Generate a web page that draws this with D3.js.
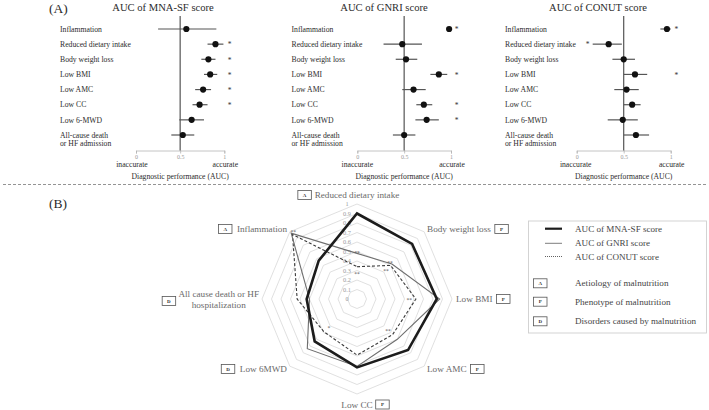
<!DOCTYPE html>
<html><head><meta charset="utf-8">
<script src="https://cdn.jsdelivr.net/npm/d3@7"></script>
<style>
body{margin:0;background:#fff}
svg{display:block}
text{font-family:"Liberation Serif","Times New Roman",serif}
</style>
</head><body>
<svg id="c" width="709" height="410"></svg>
<script>
// ---------------- DATA ----------------
const outcomes = ["Inflammation","Reduced dietary intake","Body weight loss","Low BMI","Low AMC","Low CC","Low 6-MWD","All-cause death|or HF admission"];
const scoreNames = ["AUC of MNA-SF score","AUC of GNRI score","AUC of CONUT score"];

const mnaAUC = [0.57,0.90,0.82,0.84,0.76,0.72,0.63,0.53];
const mnaLo  = [0.25,0.81,0.74,0.77,0.67,0.64,0.49,0.40];
const mnaHi  = [0.91,0.99,0.90,0.92,0.85,0.81,0.77,0.66];
const mnaSig = [0,1,1,1,1,1,0,0];

const gnriAUC = [0.98,0.48,0.52,0.87,0.60,0.71,0.74,0.50];
const gnriLo  = [0.96,0.28,0.41,0.78,0.48,0.63,0.62,0.38];
const gnriHi  = [1.00,0.69,0.64,0.96,0.73,0.80,0.87,0.62];
const gnriSig = [1,0,0,1,0,1,1,0];

const conutAUC = [0.96,0.34,0.50,0.62,0.53,0.59,0.49,0.63];
const conutLo  = [0.89,0.17,0.38,0.50,0.40,0.50,0.33,0.50];
const conutHi  = [1.00,0.48,0.62,0.75,0.66,0.68,0.65,0.77];
const conutSig = [1,-1,0,1,0,0,0,0];   // 1 = asterisk right, -1 = asterisk left

const xTicks = [0,0.5,1];
const xTickLabels = ["0","0.5","1"];

// radar (clockwise from top), indices into the outcome arrays
const radarOrder = [1,2,3,4,5,6,7,0];
const radarLabels = ["Reduced dietary intake","Body weight loss","Low BMI","Low AMC","Low CC","Low 6MWD","All cause death or HF|hospitalization","Inflammation"];
const radarDomain = ["A","P","P","P","P","D","D","A"];
const radarTicks = [0,0.1,0.2,0.3,0.4,0.5,0.6,0.7,0.8,0.9,1];
const radarGnriMarks  = ["**","**","","","","","","**"];
const radarConutMarks = ["**","**","**","**","","*","",""];

const legendKeys = [["A","Aetiology of malnutrition"],["P","Phenotype of malnutrition"],["D","Disorders caused by malnutrition"]];

// ---------------- DRAW ----------------
const svg = d3.select("#c");
const FONT_DARK = "#2b2b2b";

svg.append("text").attr("x",49).attr("y",12.5).attr("font-size",13.5).attr("fill",FONT_DARK).text("(A)");
svg.append("text").attr("x",49).attr("y",208).attr("font-size",13.5).attr("fill",FONT_DARK).text("(B)");

// divider
svg.append("line").attr("x1",3).attr("x2",706).attr("y1",184.5).attr("y2",184.5)
  .attr("stroke","#888").attr("stroke-width",0.9).attr("stroke-dasharray","3,2");

const panels = [
  {title:scoreNames[0], titleX:163, labelX:60,  range:[136,224.3], auc:mnaAUC, lo:mnaLo, hi:mnaHi, sig:mnaSig, inacOff:-4},
  {title:scoreNames[1], titleX:384, labelX:291.5, range:[357.3,451], auc:gnriAUC, lo:gnriLo, hi:gnriHi, sig:gnriSig, inacOff:0},
  {title:scoreNames[2], titleX:598, labelX:505, range:[576.7,670.7], auc:conutAUC, lo:conutLo, hi:conutHi, sig:conutSig, inacOff:-1}
];

const y = d3.scalePoint().domain(outcomes).range([29,135]);
const axisY = 150.5;

panels.forEach(p=>{
  const x = d3.scaleLinear().domain([0,1]).range(p.range);
  const g = svg.append("g");
  g.append("text").attr("x",p.titleX).attr("y",11)
    .attr("text-anchor","middle").attr("font-size",10.6).attr("fill",FONT_DARK).text(p.title);
  outcomes.forEach(o=>{
    o.split("|").forEach((t,k)=>{
      g.append("text").attr("x",p.labelX).attr("y",y(o)+k*8.2).attr("dy","0.35em")
        .attr("font-size",7.7).attr("fill",FONT_DARK).text(t);
    });
  });
  const ax = g.append("g").attr("transform",`translate(0,${axisY})`);
  ax.call(d3.axisBottom(x).ticks(10).tickSize(2).tickFormat(""));
  ax.call(d3.axisBottom(x).tickValues(xTicks).tickSize(3).tickFormat((d,i)=>xTickLabels[i]));
  ax.selectAll("path").attr("stroke","#b5b5b5").attr("stroke-width",0.8);
  ax.selectAll("line").attr("stroke","#b5b5b5").attr("stroke-width",0.8);
  ax.selectAll("text").attr("font-family","Liberation Serif").attr("font-size",6).attr("fill","#999").attr("dy","0.45em");
  g.append("line").attr("x1",x(0.5)).attr("x2",x(0.5)).attr("y1",16).attr("y2",axisY)
    .attr("stroke","#555").attr("stroke-width",1.2);
  g.append("text").attr("x",x(0)+p.inacOff).attr("y",164).attr("dy","0.35em").attr("text-anchor","middle")
    .attr("font-size",7.7).attr("fill",FONT_DARK).text("inaccurate");
  g.append("text").attr("x",x(1)+1).attr("y",164).attr("dy","0.35em").attr("text-anchor","middle")
    .attr("font-size",7.7).attr("fill",FONT_DARK).text("accurate");
  g.append("text").attr("x",x(0.5)).attr("y",176.5).attr("dy","0.35em").attr("text-anchor","middle")
    .attr("font-size",7.7).attr("fill",FONT_DARK).text("Diagnostic performance (AUC)");
  outcomes.forEach((o,i)=>{
    g.append("line").attr("x1",x(p.lo[i])).attr("x2",x(p.hi[i])).attr("y1",y(o)).attr("y2",y(o))
      .attr("stroke","#555").attr("stroke-width",1.2);
    g.append("circle").attr("cx",x(p.auc[i])).attr("cy",y(o)).attr("r",3.1).attr("fill","#111");
    if(p.sig[i]!==0){
      const sx = p.sig[i]>0 ? x(1.06) : x(p.lo[i]) - 5;
      g.append("text").attr("x",sx).attr("y",y(o)+3.3).attr("text-anchor","middle")
        .attr("font-size",7.5).attr("fill","#333").text("*");
    }
  });
});

// ---------------- RADAR ----------------
const cx = 357, cy = 299, R = 95;
const r = d3.scaleLinear().domain([0,1]).range([0,R]);
const nAx = radarOrder.length;
const ang = i => i*2*Math.PI/nAx;
const pt = (i,v) => [cx + r(v)*Math.sin(ang(i)), cy - r(v)*Math.cos(ang(i))];
const rg = svg.append("g");

radarTicks.slice(1).forEach(v=>{
  rg.append("polygon").attr("points", d3.range(nAx).map(i=>pt(i,v).join(",")).join(" "))
    .attr("fill","none").attr("stroke","#d8d8d8").attr("stroke-width",0.8);
});
radarTicks.forEach(v=>{
  rg.append("text").attr("x",cx-10).attr("y",cy - r(v)).attr("dy","0.35em").attr("text-anchor","middle")
    .attr("font-size",6.3).attr("fill","#9a9a9a").text(v===0?"0":(v===1?"1":d3.format(".1f")(v)));
});

const radarLine = d3.line().curve(d3.curveLinearClosed);
const series = [
  {vals:conutAUC, stroke:"#3a3a3a", w:1.1, dash:"3,2"},
  {vals:gnriAUC,  stroke:"#6e6e6e", w:1.1, dash:null},
  {vals:mnaAUC,   stroke:"#1c1c1c", w:2.6, dash:null}
];
series.forEach(s=>{
  const pts = radarOrder.map((k,i)=>pt(i,s.vals[k]));
  rg.append("path").attr("d",radarLine(pts)).attr("fill","none")
    .attr("stroke",s.stroke).attr("stroke-width",s.w).attr("stroke-linejoin","miter")
    .attr("stroke-dasharray",s.dash);
});
[[radarGnriMarks,gnriAUC],[radarConutMarks,conutAUC]].forEach(([marks,vals],si)=>{
  radarOrder.forEach((k,i)=>{
    if(!marks[i]) return;
    const [px,py] = pt(i, vals[k] - (si===0?0.03:0.07));
    rg.append("text").attr("x",px).attr("y",py+ (si===0?-1:3)).attr("text-anchor","middle")
      .attr("font-size",5.5).attr("fill","#555").text(marks[i]);
  });
});

function domainBox(g, bx, by, letter){
  g.append("rect").attr("x",bx).attr("y",by-4.5).attr("width",13.5).attr("height",9)
    .attr("fill","#fff").attr("stroke","#555").attr("stroke-width",0.8);
  g.append("text").attr("x",bx+6.75).attr("y",by).attr("dy","0.35em").attr("text-anchor","middle")
    .attr("font-size",5).attr("font-weight","bold").attr("fill","#333").text(letter);
}
const LAB = "#6a6a6a", LFS = 9.2;
radarLabels.forEach((lab,i)=>{
  const a = ang(i), s = Math.sin(a), c = Math.cos(a);
  const g = rg.append("g");
  const lines = lab.split("|");
  if(Math.abs(s) < 0.1){
    const rr = c > 0 ? 104 : 105.5;
    const tx = cx, ty = cy - rr*c;
    const t = g.append("text").attr("x",tx).attr("y",ty).attr("dy","0.35em").attr("text-anchor","middle")
      .attr("font-size",LFS).attr("fill",LAB).text(lines[0]);
    const w = t.node().getComputedTextLength();
    if(c > 0) domainBox(g, tx - w/2 - 3.3 - 13.5, ty, radarDomain[i]);
    else domainBox(g, tx + w/2 + 3, ty, radarDomain[i]);
  } else if(lines.length === 1){
    const rr = 99;
    const tx = cx + rr*s, ty = cy - rr*c;
    const t = g.append("text").attr("x",tx).attr("y",ty).attr("dy","0.35em")
      .attr("text-anchor", s>0 ? "start" : "end")
      .attr("font-size",LFS).attr("fill",LAB).text(lines[0]);
    const w = t.node().getComputedTextLength();
    if(s>0) domainBox(g, tx + w + 4, ty, radarDomain[i]);
    else domainBox(g, tx - w - 5 - 13.5, ty, radarDomain[i]);
  } else {
    const rr = 98;
    const right = cx - rr;
    const probe = g.append("text").attr("font-size",LFS).text(lines[0]);
    const w0 = probe.node().getComputedTextLength(); probe.remove();
    const mid = right - w0/2;
    lines.forEach((t,k)=>{
      g.append("text").attr("x",mid).attr("y",cy - 5 + k*11).attr("dy","0.35em").attr("text-anchor","middle")
        .attr("font-size",LFS).attr("fill",LAB).text(t);
    });
    domainBox(g, mid - w0/2 - 2.7 - 13.5, cy + 2, radarDomain[i]);
  }
});

// ---------------- LEGEND ----------------
const lg = svg.append("g");
lg.append("rect").attr("x",528.5).attr("y",221).attr("width",178).attr("height",112)
  .attr("fill","none").attr("stroke","#cfcfcf").attr("stroke-width",0.9);
const legY = [228.7,243.3,256.5];
[series[2],series[1],series[0]].forEach((s,k)=>{
  lg.append("line").attr("x1",545).attr("x2",562).attr("y1",legY[k]).attr("y2",legY[k])
    .attr("stroke",s.stroke).attr("stroke-width",k===0?2.2:(k===1?0.9:0.8)).attr("stroke-dasharray",k===2?"1,1":null);
  lg.append("text").attr("x",575).attr("y",legY[k]).attr("dy","0.35em").attr("font-size",9.1)
    .attr("fill","#444").text(scoreNames[k]);
});
const keyY = [283.3,301.7,321.3];
legendKeys.forEach((kv,k)=>{
  domainBox(lg, 533.5, keyY[k], kv[0]);
  lg.append("text").attr("x",575).attr("y",keyY[k]).attr("dy","0.35em").attr("font-size",9.1)
    .attr("fill","#444").text(kv[1]);
});
</script>
</body></html>
